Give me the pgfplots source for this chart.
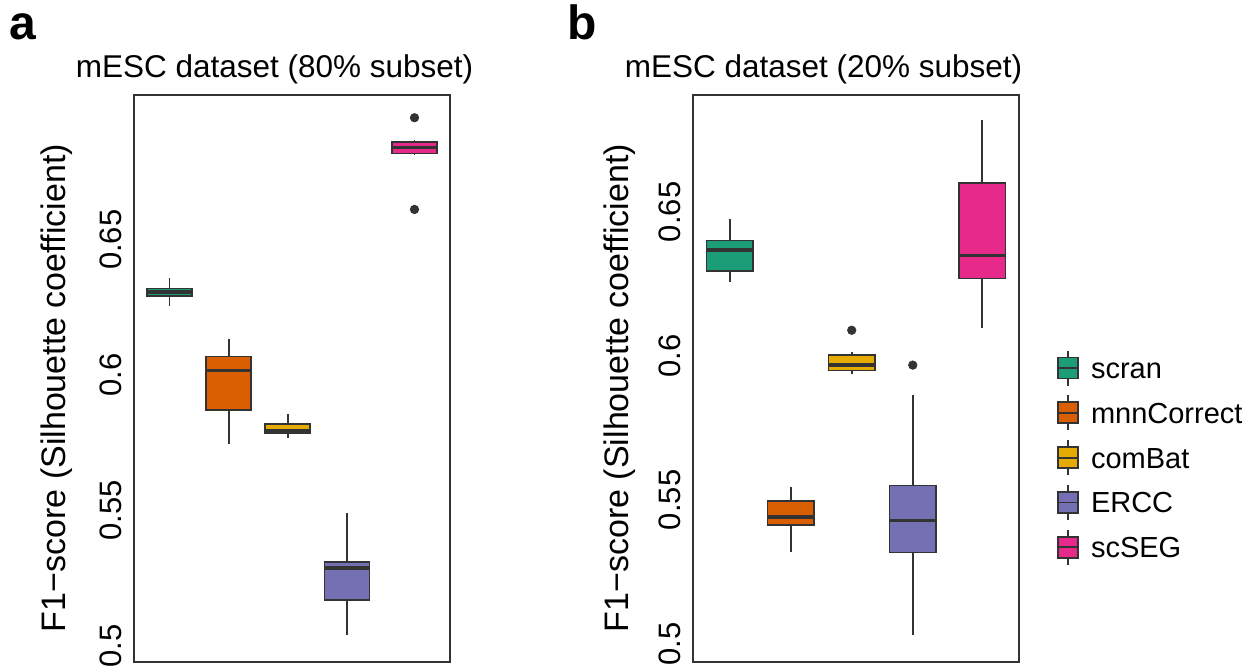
\documentclass[border=0pt]{standalone}
\usepackage{fontspec}
\setmainfont{Liberation Sans}
\usepackage{pgfplots}
\pgfplotsset{compat=1.18}
\usepgfplotslibrary{statistics}
\definecolor{c1}{HTML}{1B9E77}
\definecolor{c2}{HTML}{D95F02}
\definecolor{c3}{HTML}{E6AB02}
\definecolor{c4}{HTML}{7570B3}
\definecolor{c5}{HTML}{E7298A}
\definecolor{lc}{HTML}{333333}
\newcommand\boxlegimg[1]{%
  \draw[line width=0.9pt, draw=lc] (5pt,-8.75pt) -- (5pt,8.75pt);
  \draw[line width=0.9pt, draw=lc, fill=#1] (0pt,-5.25pt) rectangle (10pt,5.25pt);
  \draw[line width=0.9pt, draw=lc] (0pt,0pt) -- (10pt,0pt);}
\pgfplotsset{
  panel/.style={
    scale only axis, height=283.5pt,
    xmin=0.4, xmax=5.74, xtick=\empty,
    ytick={0.5,0.55,0.6,0.65}, yticklabels={0.5,0.55,0.6,0.65},
    major tick length=0pt,
    axis line style={draw=lc, line width=0.6pt},
    yticklabel style={rotate=90, anchor=south, inner xsep=0pt, inner ysep=6pt, font=\fontsize{15.5}{18}\selectfont},
    ylabel={F1−score (Silhouette coefficient)},
    boxplot/draw direction=y,
  },
  mybox/.style={
    boxplot/draw direction=y,
    boxplot/whisker extend=0,
    boxplot/every median/.style={line width=1.8pt},
    boxplot/every whisker/.style={line width=0.95pt},
    boxplot/every box/.style={line width=0.9pt},
    draw=lc, mark=*, mark size=2.1pt, mark options={fill=lc, draw=lc, solid},
  },
}
\begin{document}
\begin{tikzpicture}
\path[use as bounding box] (0pt,0pt) rectangle (627.5pt,334pt);
\node[anchor=base west, inner sep=0pt, font=\fontsize{24}{28}\selectfont\bfseries] at (4.5pt,314pt) {a};
\node[anchor=base west, inner sep=0pt, font=\fontsize{24}{28}\selectfont\bfseries] at (283.5pt,314pt) {b};
% Panel a
\begin{axis}[panel, width=158pt, at={(67pt,3pt)}, anchor=south west,
  ymin=0.494, ymax=0.7035,
  every axis y label/.style={at={(axis description cs:-0.2437,0.483)}, rotate=90, anchor=center, font=\fontsize{17}{20}\selectfont},
  title={mESC dataset (80\% subset)},
  every axis title/.style={at={(axis description cs:0.4446,1.0317)}, anchor=base, inner sep=0pt, font=\fontsize{15.75}{19}\selectfont},
]
\addplot[mybox, fill=c1, boxplot prepared={draw direction=y, lower whisker=0.6256, lower quartile=0.6291, median=0.6307, upper quartile=0.6320, upper whisker=0.6357, draw position=1, box extend=0.76}] coordinates {};
\addplot[mybox, fill=c2, boxplot prepared={draw direction=y, lower whisker=0.5745, lower quartile=0.5871, median=0.6017, upper quartile=0.6069, upper whisker=0.6132, draw position=2, box extend=0.76}] coordinates {};
\addplot[mybox, fill=c3, boxplot prepared={draw direction=y, lower whisker=0.5766, lower quartile=0.5787, median=0.5796, upper quartile=0.5820, upper whisker=0.5855, draw position=3, box extend=0.76}] coordinates {};
\addplot[mybox, fill=c4, boxplot prepared={draw direction=y, lower whisker=0.5039, lower quartile=0.5169, median=0.5287, upper quartile=0.5309, upper whisker=0.5489, draw position=4, box extend=0.76}] coordinates {};
\addplot[mybox, fill=c5, boxplot prepared={draw direction=y, lower whisker=0.6812, lower quartile=0.6819, median=0.6841, upper quartile=0.6860, upper whisker=0.6867, draw position=5.14, box extend=0.76}] table[row sep=\\, y index=0] {y\\ 0.6951\\ 0.6612\\};
\end{axis}
% Panel b
\begin{axis}[panel, width=163pt, at={(346.5pt,3pt)}, anchor=south west,
  ymin=0.4937, ymax=0.6906,
  every axis y label/.style={at={(axis description cs:-0.224,0.483)}, rotate=90, anchor=center, font=\fontsize{17}{20}\selectfont},
  title={mESC dataset (20\% subset)},
  every axis title/.style={at={(axis description cs:0.4003,1.0317)}, anchor=base, inner sep=0pt, font=\fontsize{15.75}{19}\selectfont},
  legend style={at={(axis description cs:1.1172,0.5508)}, anchor=north west, draw=none, fill=none, inner sep=0pt, outer sep=0pt,
    row sep=4pt, column sep=6pt, font=\fontsize{14.5}{17}\selectfont,
    nodes={inner sep=0pt, text height=10.4pt, text depth=0pt, anchor=west}},
  legend cell align=left,
]
\addplot[mybox, forget plot, fill=c1, boxplot prepared={draw direction=y, lower whisker=0.6256, lower quartile=0.6294, median=0.6368, upper quartile=0.6401, upper whisker=0.6475, draw position=1, box extend=0.76}] coordinates {};
\addplot[mybox, forget plot, fill=c2, boxplot prepared={draw direction=y, lower whisker=0.5319, lower quartile=0.5413, median=0.5440, upper quartile=0.5496, upper whisker=0.5545, draw position=2, box extend=0.76}] coordinates {};
\addplot[mybox, forget plot, fill=c3, boxplot prepared={draw direction=y, lower whisker=0.5936, lower quartile=0.5949, median=0.5968, upper quartile=0.6003, upper whisker=0.6015, draw position=3, box extend=0.76}] table[row sep=\\, y index=0] {y\\ 0.6089\\};
\addplot[mybox, forget plot, fill=c4, boxplot prepared={draw direction=y, lower whisker=0.5030, lower quartile=0.5317, median=0.5429, upper quartile=0.5550, upper whisker=0.5863, draw position=4, box extend=0.76}] table[row sep=\\, y index=0] {y\\ 0.5968\\};
\addplot[mybox, forget plot, fill=c5, boxplot prepared={draw direction=y, lower whisker=0.6097, lower quartile=0.6269, median=0.6349, upper quartile=0.6599, upper whisker=0.6818, draw position=5.14, box extend=0.76}] coordinates {};
\addlegendimage{legend image code/.code={\boxlegimg{c1}}}
\addlegendentry{scran}
\addlegendimage{legend image code/.code={\boxlegimg{c2}}}
\addlegendentry{mnnCorrect}
\addlegendimage{legend image code/.code={\boxlegimg{c3}}}
\addlegendentry{comBat}
\addlegendimage{legend image code/.code={\boxlegimg{c4}}}
\addlegendentry{ERCC}
\addlegendimage{legend image code/.code={\boxlegimg{c5}}}
\addlegendentry{scSEG}
\end{axis}
\end{tikzpicture}
\end{document}
